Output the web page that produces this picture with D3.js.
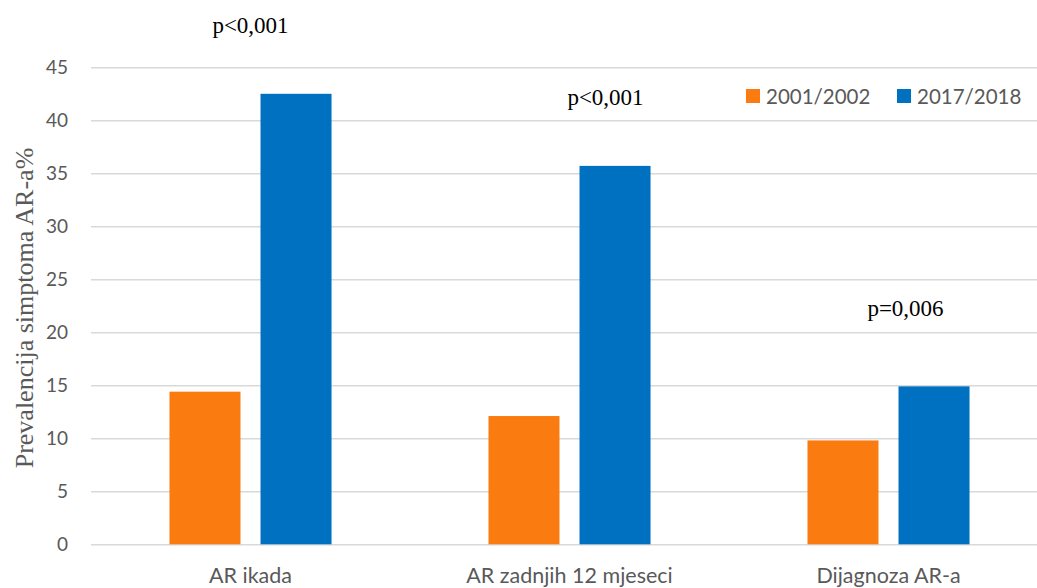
<!DOCTYPE html>
<html><head><meta charset="utf-8">
<script src="https://cdn.jsdelivr.net/npm/d3@7"></script>
<style>body{margin:0;background:#fff}svg{display:block}</style>
</head><body>
<svg id="c" width="1037" height="588"></svg>
<script>
const categories = ["AR ikada", "AR zadnjih 12 mjeseci", "Dijagnoza AR-a"];
const seriesNames = ["2001/2002", "2017/2018"];
const values2001 = [14.4, 12.1, 9.8];
const values2017 = [42.5, 35.7, 14.9];
const pLabels = ["p<0,001", "p<0,001", "p=0,006"];
const yTicks = [0, 5, 10, 15, 20, 25, 30, 35, 40, 45];
const colors = ["#fa7b10", "#0070c0"];

(function () {
const svg = d3.select("#c");
const mLeft = 91, mRight = 1048, mTop = 67.3, mBottom = 544.3;
const y = d3.scaleLinear().domain([0, 45]).range([mBottom, mTop]);
const x0 = d3.scaleBand().domain(categories).range([mLeft, mRight]).paddingInner(0.492).paddingOuter(0.246);
const x1 = d3.scaleBand().domain(seriesNames).range([0, x0.bandwidth()]).paddingInner(0.22).paddingOuter(0);

const grid = svg.append("g").attr("transform", `translate(${mLeft},0)`)
  .call(d3.axisLeft(y).tickValues(yTicks).tickSize(-(1037 - mLeft)).tickFormat(d3.format("d")).tickPadding(23));
grid.select(".domain").remove();
grid.selectAll(".tick line").attr("stroke", "#d9d9d9").attr("stroke-width", 1.5);
grid.selectAll(".tick text").attr("fill", "#595959").style("font-family", "Lato").style("font-size", "19px");

const data = categories.map((c, i) => ({c, vals: [values2001[i], values2017[i]]}));
const g = svg.selectAll(".grp").data(data).join("g").attr("transform", d => `translate(${x0(d.c)},0)`);
g.selectAll("rect").data(d => d.vals.map((v, j) => ({s: seriesNames[j], v, j}))).join("rect")
  .attr("x", d => x1(d.s)).attr("width", x1.bandwidth())
  .attr("y", d => y(d.v)).attr("height", d => y(0) - y(d.v))
  .attr("fill", d => colors[d.j]);

const xa = svg.append("g").attr("transform", `translate(0,${mBottom})`)
  .call(d3.axisBottom(x0).tickSize(0).tickPadding(0));
xa.select(".domain").remove();
xa.selectAll(".tick text").attr("dy", null).attr("y", 39).attr("fill", "#595959")
  .style("font-family", "Lato").style("font-size", "21.5px");

const pBase = [33, 105, 316];
const pShift = [0, 36, 17];
svg.selectAll(".pl").data(categories).join("text")
  .attr("x", (d, i) => x0(d) + x0.bandwidth() / 2 + pShift[i])
  .attr("y", (d, i) => pBase[i])
  .attr("text-anchor", "middle")
  .style("font-family", "Liberation Serif").style("font-size", "23px").attr("fill", "#000")
  .text((d, i) => pLabels[i]);

svg.append("text").attr("transform", "translate(32.5,308) rotate(-90)")
  .attr("text-anchor", "middle")
  .style("font-family", "Liberation Serif").style("font-size", "26px").attr("fill", "#595959")
  .text("Prevalencija simptoma AR-a%");

const lg = svg.append("g").attr("transform", "translate(746,89)");
const items = lg.selectAll("g").data(seriesNames).join("g").attr("transform", (d, i) => `translate(${i * 151},0)`);
items.append("rect").attr("width", 14).attr("height", 14).attr("fill", (d, i) => colors[i]);
items.append("text").attr("x", 20).attr("y", 7).attr("dominant-baseline", "central")
  .style("font-family", "Lato").style("font-size", "20.5px").attr("fill", "#595959").text(d => d);
})();
</script>
</body></html>
